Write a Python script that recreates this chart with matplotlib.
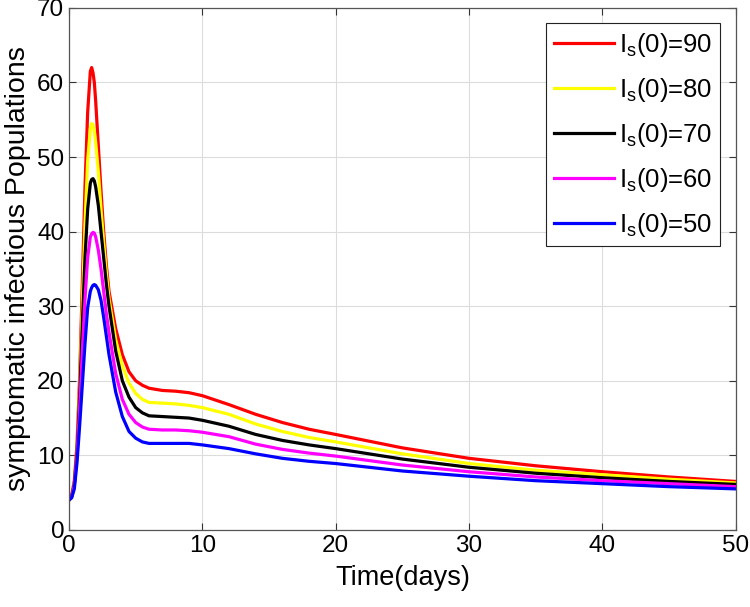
import matplotlib as mpl
mpl.use('Agg')
import matplotlib.pyplot as plt

mpl.rc('font', family=['Liberation Sans', 'DejaVu Sans'], size=17)
mpl.rc('mathtext', fontset='custom', rm='Liberation Sans', it='Liberation Sans')

# time grid (days)
t = [0, 0.2, 0.4, 0.6, 0.8, 1.0, 1.2, 1.4, 1.6, 1.7, 1.8, 1.9, 2.0, 2.2, 2.4, 2.6, 2.8,
     3.0, 3.5, 4, 4.5, 5, 5.5, 6, 7, 8, 9, 10, 12, 14, 16, 18, 20, 25, 30, 35, 40, 45, 50]

is90 = [4, 4.6, 6.6, 11.5, 20.5, 33, 46, 56, 61.5, 62, 61.3, 60, 57.5, 51.5, 45.5, 40, 35.5,
        32, 27, 23.5, 21.2, 20, 19.4, 19.0, 18.7, 18.6, 18.4, 18.0, 16.8, 15.5, 14.4, 13.5, 12.8,
        11.0, 9.6, 8.6, 7.8, 7.1, 6.5]
is80 = [4, 4.5, 6.4, 11, 19, 30, 41, 49.5, 53.8, 54.5, 54.3, 53.5, 52, 48, 43, 38.5, 34.5,
        31, 25.5, 22, 19.7, 18.3, 17.5, 17.1, 17.0, 16.9, 16.7, 16.4, 15.5, 14.2, 13.2, 12.4, 11.8,
        10.2, 8.9, 8.0, 7.4, 6.8, 6.3]
is70 = [4, 4.5, 6.2, 10.5, 18, 27.5, 36.5, 43, 46.5, 47, 47.1, 46.8, 46, 43.5, 40, 36.5, 33,
        30, 24, 20, 17.8, 16.4, 15.7, 15.3, 15.2, 15.1, 15.0, 14.7, 13.9, 12.8, 12.0, 11.4, 10.9,
        9.5, 8.4, 7.6, 7.0, 6.5, 6.1]
is60 = [4, 4.4, 6, 10, 16.5, 24, 31, 36.5, 39.3, 39.7, 39.9, 39.8, 39.3, 37.5, 35, 32, 29,
        26.5, 21, 17.5, 15.5, 14.4, 13.8, 13.5, 13.4, 13.4, 13.3, 13.1, 12.5, 11.5, 10.8, 10.3, 9.9,
        8.7, 7.8, 7.1, 6.6, 6.2, 5.8]
is50 = [4, 4.3, 5.5, 9, 14, 19.5, 25, 29.8, 32, 32.5, 32.8, 32.9, 32.8, 32.2, 30.8, 28.5, 26,
        23.5, 18.5, 15.2, 13.2, 12.3, 11.8, 11.6, 11.6, 11.6, 11.6, 11.4, 10.9, 10.2, 9.6, 9.2, 8.9,
        7.9, 7.2, 6.6, 6.2, 5.8, 5.5]

series = [is90, is80, is70, is60, is50]
labels = [90, 80, 70, 60, 50]
colors = ['#ff0000', '#ffff00', '#000000', '#ff00ff', '#0000ff']

fig = plt.figure(figsize=(7.5, 6.07), dpi=100)
ax = fig.add_axes([0.092, 0.127, 0.889, 0.86])

for y, lab, c in zip(series, labels, colors):
    ax.plot(t, y, color=c, lw=2.3, solid_joinstyle='round',
            label=r'I$_{\mathregular{s}}$(0)=%d' % lab)

ax.set_xlim(0, 50)
ax.set_ylim(0, 70)
ax.set_xticks(range(0, 51, 10))
ax.set_yticks(range(0, 71, 10))
ax.grid(True, color='#dcdcdc', lw=0.8)
ax.tick_params(direction='in', top=True, right=True, length=5, color='#333333', labelsize=17.5)
for s in ax.spines.values():
    s.set_color('#555555')
    s.set_linewidth(0.9)

ax.set_xlabel('Time(days)', fontsize=19.5, labelpad=6)
ax.set_ylabel('symptomatic infectious Populations', fontsize=20.5, labelpad=4)

leg = ax.legend(loc='upper right', bbox_to_anchor=(0.977, 0.971), fancybox=False,
                edgecolor='#222222', framealpha=1, handlelength=2.35, labelspacing=0.66,
                borderpad=0.3, handletextpad=0.2, borderaxespad=0, fontsize=18.5)
leg.get_frame().set_linewidth(0.8)

fig.savefig('out.png', dpi=100)
